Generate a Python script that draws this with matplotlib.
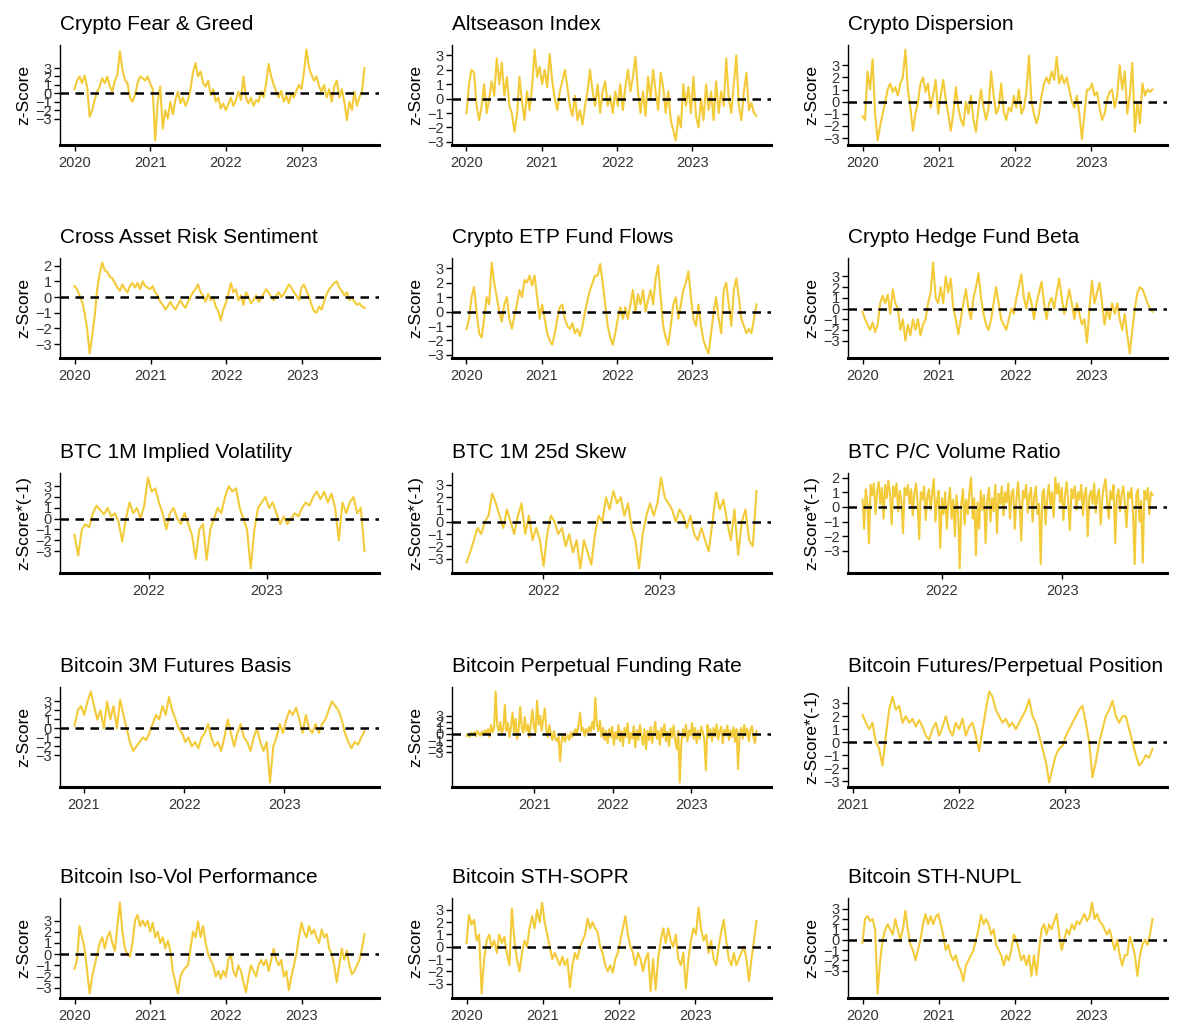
import numpy as np
import pandas as pd
import matplotlib
matplotlib.use("Agg")
import matplotlib.pyplot as plt
import matplotlib.dates as mdates

plt.rcParams["font.family"] = ["Liberation Sans", "DejaVu Sans"]

LINE_COLOR = "#F3CB3A"

# ---------------- data (z-scores) ----------------
fear_greed = [
    0.5, 1.5, 2.0, 1.2, 2.1, 0.8, -2.8, -2.0, -0.8, 0.2, 0.8, 1.8, 1.2, 2.0, 0.8,
    0.2, 1.5, 2.2, 5.0, 2.8, 1.6, 1.2, -0.5, -1.0, -0.2, 1.2, 2.0, 1.8, 1.5, 2.0,
    1.2, 0.5, -5.6, -1.0, 0.8, -4.2, -2.0, -3.0, -1.0, -2.5, -0.8, 0.2, -1.2, -0.5, -1.5,
    -0.8, 0.5, 2.5, 3.6, 2.0, 2.6, 1.2, 0.8, 1.5, -0.2, 0.5, -1.0, -0.5, -1.8, -1.2,
    -2.0, -1.3, -0.5, -1.5, -0.8, 0.2, -0.8, 2.0, -0.5, -1.2, -0.5, -1.5, -0.8, -1.0, 0.2,
    -0.5, 1.2, 3.5, 2.0, 1.0, 0.2, -0.5, 0.3, -1.0, -0.3, -1.2, 0.0, -0.5, 0.3, 1.0,
    0.5, 2.5, 5.2, 3.0, 2.2, 1.5, 2.0, 0.8, 0.2, 1.0, -0.5, 0.5, -1.0, 0.8, 1.5,
    -0.5, 0.5, -1.0, -3.2, -1.0, -2.0, 0.2, -1.5, -0.5, 0.3, 3.0,
]
altseason = [
    -1.0, 1.0, 2.0, 1.8, -0.5, -1.5, -0.5, 1.0, -1.0, 0.0, 1.2, 0.2, 2.8, 1.0, 2.5,
    0.2, 1.5, -0.5, -1.0, -2.3, -1.2, 1.5, -0.2, -1.5, 0.5, -0.8, 0.8, 3.4, 1.5, 2.2,
    1.0, 2.0, 0.8, 3.1, 1.2, 0.0, -0.8, 0.5, 1.2, 2.0, 0.8, -0.5, -1.2, 0.2, -1.5,
    -0.8, -1.8, -0.5, 0.5, 2.0, 0.5, -0.5, 1.0, -1.0, 0.5, 1.2, -0.5, 0.2, -1.0, 0.5,
    -0.5, 1.0, -0.8, 0.8, 2.0, 0.5, 1.5, 2.9, 0.5, -1.0, 0.5, -1.2, 1.5, 0.0, 2.0,
    0.5, -0.8, 1.8, 0.8, -1.0, 0.5, -1.5, -2.2, -2.9, -1.2, -2.0, 1.0, -0.5, 0.8, -1.0,
    1.5, -1.2, -2.0, 0.0, -1.5, 1.0, -0.8, 0.5, -1.5, 1.2, -1.0, 0.5, -0.5, 2.8, 0.0,
    -1.0, 1.0, 3.0, -0.5, -1.5, 0.5, 1.8, -0.8, -0.3, -1.0, -1.2,
]
dispersion = [
    -1.2, -1.5, 2.5, 1.0, 3.5, -1.0, -3.2, -2.0, -1.0, 0.0, 1.0, 1.5, 0.8, 1.2, 0.5,
    1.5, 2.0, 4.3, 1.0, -0.5, -2.4, -1.0, 0.0, 1.5, 2.0, 0.8, 1.5, -0.5, 0.5, 1.8,
    -1.0, 0.5, 1.8, 0.2, -1.0, -2.4, -1.0, 1.2, -0.5, -1.5, -2.0, 0.0, -1.0, 0.5, -1.5,
    -2.5, -0.5, 1.0, -0.5, -1.5, -0.5, 2.5, 0.5, -1.0, -0.5, 1.5, -0.8, -1.5, -0.5, -0.8,
    0.5, -0.5, 1.0, -1.0, -0.5, 0.8, 3.8, 0.0, -1.0, -1.8, -1.0, 0.5, 1.5, 2.0, 1.5,
    2.5, 1.8, 3.7, 1.5, 2.2, 1.5, 2.0, 1.0, 0.0, -0.5, 0.5, -1.0, -3.1, -1.0, 1.0,
    1.0, 1.5, 0.5, 0.8, -0.5, -1.5, -1.0, 0.2, 0.8, 1.0, -0.5, 0.5, 3.0, 1.0, 2.5,
    -1.0, 0.5, 3.2, -2.5, 0.0, -1.8, 1.5, 0.5, 1.0, 0.8, 1.0,
]
cross_asset = [
    0.7, 0.5, 0.1, -0.3, -1.0, -2.0, -3.6, -2.5, -1.2, 0.5, 1.5, 2.2, 1.7, 1.6, 1.3,
    1.2, 0.9, 0.6, 0.4, 0.8, 0.5, 0.3, 0.7, 0.9, 0.6, 0.9, 0.5, 1.0, 0.7, 0.6,
    0.5, 0.7, 0.3, 0.1, -0.3, -0.5, -0.8, -0.6, -0.3, -0.6, -0.8, -0.5, -0.2, -0.5, -0.7,
    -0.3, 0.0, 0.3, 0.5, 0.8, 0.3, 0.1, -0.3, 0.2, -0.2, 0.0, -0.6, -0.9, -1.5, -0.8,
    -0.4, 0.2, 0.9, 0.3, 0.5, -0.2, 0.1, -0.5, 0.3, 0.0, -0.4, -0.2, 0.1, -0.3, -0.1,
    0.2, 0.5, 0.3, 0.0, -0.2, 0.1, 0.3, 0.0, 0.2, 0.5, 0.8, 0.6, 0.3, 0.1, -0.2,
    0.6, 0.8, 0.4, 0.0, -0.5, -0.9, -1.0, -0.6, -0.8, -0.3, 0.2, 0.5, 0.7, 0.9, 1.0,
    0.6, 0.4, 0.1, 0.3, -0.2, 0.0, -0.3, -0.5, -0.4, -0.6, -0.7,
]
etp_flows = [
    -1.2, -0.5, 1.0, 1.7, 0.0, -1.5, -1.8, -0.5, 1.0, 0.5, 3.4, 2.0, 1.0, 0.0, -0.7,
    0.5, 1.0, -0.5, -1.2, -0.3, 0.5, 1.5, 1.0, 2.2, 2.0, 2.5, 1.8, 2.5, 1.0, -0.5,
    0.5, -0.5, -1.5, -2.0, -2.3, -1.5, -0.5, 0.3, 0.5, -0.5, -1.0, -1.2, -0.8, -1.5, -1.2,
    -1.7, -1.0, 0.0, 0.8, 1.5, 2.0, 2.5, 2.5, 3.3, 2.0, 0.5, -1.0, -1.8, -2.3, -1.5,
    -0.5, 0.3, -0.5, 0.3, -0.5, 0.5, 1.5, 0.0, 1.2, 0.5, 1.5, 0.0, 0.8, 1.5, 0.5,
    2.3, 3.2, 1.0, -1.0, -1.8, -2.3, -1.0, 0.5, 1.0, -0.5, 0.5, 1.5, 2.0, 2.8, 1.0,
    -0.5, -1.0, 0.5, -1.0, -2.0, -2.5, -2.9, -1.5, 0.0, 1.0, -0.5, -1.5, 1.5, 2.0, 0.5,
    -1.0, 1.5, 2.3, 1.0, -0.5, -1.0, -1.5, -1.2, -1.5, -0.5, 0.5,
]
hedge_fund_beta = [
    -0.3, -1.0, -1.5, -2.0, -1.3, -2.2, -1.5, 0.5, 1.2, 0.5, 1.3, -0.5, 1.8, 0.5, 0.0,
    -2.0, -1.0, -3.0, -1.5, -2.5, -1.0, -2.0, -1.0, -2.5, -1.5, -1.0, 0.5, 1.5, 4.3, 1.0,
    0.5, 2.0, 0.5, 3.0, 1.5, 2.8, 0.0, -1.0, -2.4, -1.0, 0.5, 1.8, 0.0, -1.0, 1.0,
    2.0, 3.3, 1.0, -0.5, -1.5, -2.0, -1.0, 0.5, 2.0, 0.5, -1.0, -1.5, -2.0, -1.0, 0.0,
    -0.5, 1.0, 2.0, 3.2, 1.0, 0.0, 1.5, 0.5, -1.0, 0.5, 1.5, 2.5, 0.5, -1.0, 0.5,
    1.0, 0.0, 1.5, 2.8, 1.0, -0.5, 0.5, 1.8, 0.5, -1.0, 0.5, -0.5, -1.5, -1.0, -3.2,
    0.0, 2.6, 0.5, 1.5, 2.4, 0.5, -1.5, 0.0, -1.0, 0.5, -0.5, 0.5, -1.0, -2.0, -0.5,
    -2.5, -4.2, -2.0, 0.0, 1.5, 2.0, 1.8, 1.2, 0.5, 0.0, -0.3,
]
btc_implied_vol = [
    -1.5, -3.4, -1.0, -0.5, -0.8, 0.5, 1.2, 0.8, 0.4, 1.0, 0.2, 0.5, -0.3, -2.1, 0.0,
    1.5, 0.5, 1.0, 0.0, 1.2, 3.8, 2.5, 2.8, 1.5, 0.5, -1.0, 0.5, 1.0, 0.0, -0.5,
    0.5, -0.5, -1.5, -3.7, -1.0, -0.5, -3.8, -1.0, 0.0, 1.0, 0.5, 2.0, 3.0, 2.5, 2.8,
    1.0, 0.0, -1.0, -4.6, -1.0, 1.0, 1.5, 2.0, 1.0, 1.5, 0.5, -0.5, 0.2, -0.5, 0.0,
    0.5, 0.2, 1.0, 1.5, 1.2, 2.0, 2.5, 1.8, 2.5, 1.5, 2.3, 1.0, -2.0, 1.5, 0.5,
    1.5, 2.0, 0.5, 1.0, -3.0,
]
btc_skew = [
    -3.3, -2.5, -1.5, -0.5, -1.0, 0.0, 0.5, 2.3, 1.5, 0.5, -0.5, 1.0, 0.0, -1.0, 0.5,
    1.5, -1.0, 0.5, -1.5, -0.5, -1.5, -3.6, -1.0, 0.5, 0.0, -1.0, -0.5, -2.0, -1.0, -2.5,
    -1.5, -3.8, -1.5, -2.5, -3.5, -1.0, 0.5, 0.0, 2.0, 1.0, 2.5, 1.5, 2.0, 0.5, 1.5,
    -0.5, -1.5, -3.8, -1.0, 0.5, 1.5, 0.5, 1.5, 3.6, 2.0, 1.5, 1.0, 0.0, 1.0, 0.5,
    -0.5, 0.5, -1.0, -1.5, -0.5, -1.5, -2.4, 0.0, 2.4, 1.0, 1.8, 0.0, -1.5, 1.0, -2.7,
    0.0, 1.0, -1.5, -2.0, 2.5,
]
btc_pc_volume = [
    0.5, -1.5, 1.2, 0.3, -2.5, 1.5, 0.8, 1.6, -0.5, 1.0, 1.7, 0.2, 1.3, -0.8, 1.5,
    0.6, 1.8, 0.9, -1.2, 1.4, 0.7, 1.6, -0.3, 1.1, 0.4, -1.8, 1.3, 0.8, 1.5, 0.2,
    1.2, -0.6, 0.9, 1.6, 0.3, -2.2, 1.0, 0.5, 1.4, -0.9, 0.7, 1.2, -0.2, 0.9, 1.9,
    -1.0, 0.4, 1.1, -2.8, 0.6, -0.5, 1.0, -1.5, 0.3, 1.3, -0.8, 0.5, -2.0, 0.8, -0.3,
    -4.2, 0.2, 1.2, -1.2, 0.5, -0.5, 1.0, 2.0, -0.8, 0.6, -3.3, 0.3, -1.5, 1.1, -0.2,
    0.8, -2.5, 0.4, 1.3, -1.0, 0.6, -0.3, 1.5, -1.8, 0.9, 0.2, 1.4, -0.6, 1.0, 0.3,
    1.6, -0.8, 0.9, 1.2, -1.5, 0.5, 1.7, 0.2, -2.3, 1.1, 0.6, 1.5, -0.4, 0.8, 1.3,
    -1.0, 0.7, 1.4, -0.5, 0.2, -3.9, 0.9, 1.2, -1.2, 0.6, 1.5, 0.1, 1.0, -0.7, 2.0,
    0.9, 1.6, 0.3, 1.3, -0.9, 0.8, 1.7, 0.4, -1.6, 1.2, 0.6, 1.4, -0.2, 1.0, 0.5,
    1.5, -0.6, 0.9, 1.3, -2.0, 0.7, 1.1, 0.2, 1.6, -0.4, 0.8, 1.2, -1.2, 0.6, 1.4,
    1.9, 0.3, -0.8, 1.1, 0.5, 1.5, -2.5, 0.7, 1.2, -0.3, 0.9, 1.4, 0.1, -1.4, 1.0,
    0.6, 1.3, -0.5, -3.9, 0.8, 1.2, -1.0, 0.4, -3.8, 1.1, 0.5, 1.3, -0.5, 1.0, 0.8,
]
futures_basis = [
    0.3, 2.0, 2.5, 1.5, 3.0, 4.1, 2.5, 1.0, 2.0, 0.0, 3.0, 1.0, 2.5, 0.0, 3.2,
    1.5, 0.0, -1.5, -2.5, -2.0, -1.5, -1.0, -1.3, -0.5, 0.5, 1.5, 1.0, 2.5, 1.5, 3.5,
    2.0, 1.0, 0.0, -0.5, -1.5, -1.0, -2.0, -1.5, -2.2, -1.0, -0.5, 0.5, -1.0, -2.0, -1.5,
    -2.5, -1.0, 1.0, -0.5, -2.0, -0.5, 0.5, -1.0, -1.5, -2.5, -1.0, 0.0, -1.5, -2.5, -1.5,
    -6.0, -2.0, -1.0, 0.5, -0.5, 1.0, 2.0, 1.5, 2.3, 1.0, -0.5, 1.5, 0.0, -0.5, 0.5,
    -0.5, 0.5, 1.0, 2.0, 3.0, 2.5, 2.0, 1.0, -0.5, -1.5, -2.2, -1.5, -1.8, -1.0, -0.3,
]
funding_rate = [
    -0.3, 0.0, -0.5, 0.2, -0.2, 0.3, -0.4, 0.5, 0.1, -0.3,
    0.4, -0.2, 0.6, 0.0, 0.8, -0.5, 1.5, 0.3, 1.0, 7.0,
    1.5, 0.5, 2.0, 0.0, 1.0, 4.8, 0.5, 1.8, -0.5, 1.2,
    3.5, 0.3, 2.5, -0.8, 0.8, 4.5, 1.0, 0.2, 2.8, 0.5,
    1.5, -0.5, 2.0, 4.0, 1.0, 0.3, 5.5, 1.5, 3.0, 0.5,
    2.5, 4.2, 0.8, -0.5, 1.5, 0.0, -1.0, 0.5, -0.8, -1.2,
    -0.5, -4.5, -1.0, 0.0, -1.3, -0.6, -0.2, -1.0, 0.3, -0.5,
    0.2, 0.8, 0.0, 1.5, 3.5, 0.5, 1.0, -0.3, 0.8, 0.2,
    1.2, 0.4, 2.0, 0.8, 6.0, 1.5, 0.5, 2.2, -0.5, 1.0,
    -1.0, 0.5, -1.5, 0.8, -0.5, 1.2, -1.8, 0.3, -0.8, 1.5,
    -1.2, 0.5, -2.0, 1.0, -0.5, 1.8, -1.5, 0.2, -0.8, 1.3,
    -2.2, 0.6, -1.0, 1.5, -0.3, -1.8, 0.8, -2.5, 0.5, -1.0,
    1.2, -1.5, 0.3, 2.0, -0.8, 0.5, -1.8, 1.0, -0.5, 1.6,
    -1.2, 0.4, -2.0, 0.9, -0.6, 1.4, -1.0, -2.5, 0.5, -8.0,
    -1.5, 0.8, -0.5, 1.5, -1.2, 0.6, -0.3, 1.8, -0.8, 1.0,
    -1.5, 0.5, -0.8, 1.2, 0.3, -1.0, -6.0, 1.5, -0.5, 0.8,
    -1.2, 1.0, -0.4, 1.6, -0.9, 0.4, 1.2, -1.5, 0.7, -0.3,
    1.4, -1.0, 0.6, -0.5, 1.1, -1.3, 0.8, -5.8, 0.2, 1.0,
    -0.8, 1.5, -0.3, 0.9, -1.2, 0.6, 1.3, -0.6, -1.5, 0.5,
]
futures_perp_position = [
    2.1, 1.5, 1.0, 1.5, 0.0, -0.5, -1.8, 0.5, 2.5, 3.5, 2.5, 2.8, 1.5, 2.0, 1.5,
    1.8, 1.2, 1.7, 1.2, 0.5, 0.2, 1.0, 1.5, 0.5, 1.2, 2.0, 1.0, 0.5, 1.5, 1.0,
    1.8, 0.5, 1.2, 1.5, 0.5, -0.7, 1.0, 2.5, 3.9, 3.5, 2.5, 2.0, 1.5, 1.8, 1.2,
    1.5, 1.0, 1.5, 2.0, 2.5, 3.3, 2.0, 1.5, 0.5, -0.5, -1.5, -3.1, -2.0, -1.0, -0.5,
    -0.3, 0.5, 1.0, 1.5, 2.0, 2.5, 2.8, 1.5, 0.0, -2.7, -1.5, 0.0, 1.0, 2.0, 2.5,
    3.2, 2.0, 1.5, 2.0, 2.0, 1.0, 0.0, -1.0, -1.8, -1.5, -1.0, -1.2, -0.5,
]
iso_vol = [
    -1.3, -0.5, 2.5, 1.5, 0.5, -1.5, -3.5, -2.0, -1.0, 0.0, 1.0, 1.5, 0.5, 1.5, 2.0,
    1.0, 0.3, 2.5, 4.6, 2.0, 0.5, 0.0, -0.2, 1.0, 3.0, 3.5, 2.5, 3.0, 2.5, 3.0,
    2.0, 2.8, 1.5, 2.0, 1.0, 1.5, 0.5, 1.2, 0.3, -1.5, -2.5, -3.5, -2.0, -1.5, -1.2,
    -1.0, 0.5, 2.0, 1.5, 2.9, 1.5, 2.5, 1.0, 0.0, -0.5, -1.0, -2.0, -1.5, -2.2, -1.5,
    -2.0, -0.5, 0.0, -1.5, -2.0, -1.0, -1.5, -2.5, -3.4, -2.0, -1.0, -1.5, -2.0, -1.0, -0.5,
    -1.0, -0.5, -1.5, -0.5, 0.5, -0.5, -1.0, -0.5, -2.0, -1.5, -3.2, -2.0, -1.0, 0.0, 1.5,
    2.8, 2.0, 1.5, 2.5, 1.8, 2.2, 1.5, 1.0, 2.2, 1.5, 1.8, 0.5, 0.0, -1.0, -2.5,
    -1.0, 0.5, -0.5, 0.3, -1.0, -1.8, -1.5, -1.0, -0.5, 0.5, 1.8,
]
sth_sopr = [
    0.3, 2.6, 1.8, 2.2, 0.5, 1.0, -3.8, -1.0, 0.5, 1.0, 0.0, 0.5, -0.5, 1.0, 0.3,
    0.8, -0.5, -1.5, 3.1, 0.5, -1.0, -2.0, -0.5, 0.5, 0.0, 1.5, 2.5, 1.5, 3.0, 2.0,
    3.6, 2.0, 1.0, 0.0, -1.0, -0.5, -1.0, -1.5, -0.8, -1.5, -1.0, -3.3, -1.5, -0.5, -1.0,
    0.0, 0.5, 1.0, 2.3, 1.5, 2.0, 1.5, 1.2, 0.0, -0.5, -1.5, -2.0, -1.5, -2.1, -1.0,
    -0.5, 0.5, 1.5, 2.5, 1.0, 0.0, -0.5, -1.5, -0.5, -1.0, -2.0, -1.0, -0.5, -3.6, -1.0,
    -3.5, -1.0, 0.5, 1.5, 0.3, 1.5, 0.5, 0.0, 1.0, -1.0, -1.5, -0.5, -3.4, -1.0, 0.5,
    1.5, 1.0, 3.2, 1.5, 0.5, 1.0, -0.5, 0.5, -1.0, -1.5, 0.0, 1.2, 2.2, 0.5, -1.0,
    -1.5, -0.5, -1.5, -1.0, -0.5, 0.0, -1.0, -2.8, -1.0, 0.5, 2.1,
]
sth_nupl = [
    -0.3, 2.0, 2.3, 1.8, 2.0, 1.0, -5.2, -2.0, 0.0, 1.0, 1.5, 1.0, 0.5, 2.0, 1.0,
    0.0, 1.0, 2.8, 1.0, -0.5, -1.0, -2.0, -1.0, 0.0, 1.5, 2.5, 1.5, 2.3, 1.5, 2.2,
    2.5, 1.5, 0.5, -1.0, -0.5, -1.5, -2.0, -1.5, -2.5, -3.0, -4.0, -2.5, -2.0, -1.5, -1.0,
    0.0, 1.0, 2.4, 1.5, 2.0, 1.5, 0.5, 1.0, -0.5, -1.0, -1.5, -2.5, -1.5, -2.0, -1.0,
    0.5, 0.0, -1.0, -2.0, -1.5, -2.5, -1.5, -3.5, -1.5, -3.4, -1.0, 1.0, 1.5, 0.5, 1.5,
    1.0, 1.8, 2.5, 0.5, -1.0, 0.0, 1.0, 0.5, 1.5, 1.0, 1.8, 1.5, 2.0, 2.5, 1.8,
    2.2, 3.6, 2.0, 2.5, 1.8, 1.5, 1.0, 0.5, 1.0, 0.0, -1.0, 0.0, -1.5, -2.5, -1.5,
    -1.5, 0.3, -0.5, -1.5, -3.5, -1.5, -0.5, 0.0, -0.5, 0.5, 2.0,
]

titles = [
    "Crypto Fear & Greed", "Altseason Index", "Crypto Dispersion",
    "Cross Asset Risk Sentiment", "Crypto ETP Fund Flows", "Crypto Hedge Fund Beta",
    "BTC 1M Implied Volatility", "BTC 1M 25d Skew", "BTC P/C Volume Ratio",
    "Bitcoin 3M Futures Basis", "Bitcoin Perpetual Funding Rate", "Bitcoin Futures/Perpetual Position",
    "Bitcoin Iso-Vol Performance", "Bitcoin STH-SOPR", "Bitcoin STH-NUPL",
]
ylabels = [
    "z-Score", "z-Score", "z-Score",
    "z-Score", "z-Score", "z-Score",
    "z-Score*(-1)", "z-Score*(-1)", "z-Score*(-1)",
    "z-Score", "z-Score", "z-Score*(-1)",
    "z-Score", "z-Score", "z-Score",
]
series = [
    fear_greed, altseason, dispersion,
    cross_asset, etp_flows, hedge_fund_beta,
    btc_implied_vol, btc_skew, btc_pc_volume,
    futures_basis, funding_rate, futures_perp_position,
    iso_vol, sth_sopr, sth_nupl,
]
start_dates = [
    "2020-01-01", "2020-01-01", "2020-01-01",
    "2020-01-01", "2020-01-01", "2020-01-01",
    "2021-05-15", "2021-05-05", "2021-05-05",
    "2020-11-28", "2020-02-20", "2021-02-03",
    "2020-01-01", "2020-01-01", "2020-01-01",
]
end_dates = [
    "2023-10-31", "2023-11-08", "2023-10-20",
    "2023-10-28", "2023-11-08", "2023-10-20",
    "2023-10-31", "2023-11-01", "2023-10-01",
    "2023-10-20", "2023-10-31", "2023-10-31",
    "2023-10-31", "2023-10-20", "2023-10-20",
]
# year labels shown under each panel
tick_years = [
    [2020, 2021, 2022, 2023], [2020, 2021, 2022, 2023], [2020, 2021, 2022, 2023],
    [2020, 2021, 2022, 2023], [2020, 2021, 2022, 2023], [2020, 2021, 2022, 2023],
    [2022, 2023], [2022, 2023], [2022, 2023],
    [2021, 2022, 2023], [2021, 2022, 2023], [2021, 2022, 2023],
    [2020, 2021, 2022, 2023], [2020, 2021, 2022, 2023], [2020, 2021, 2022, 2023],
]

# ---------------- layout (pixels of a 1200x1028 canvas) ----------------
W, H = 1200, 1028
col_left = [60, 452, 848]
col_width = 319
row_top = [45, 258, 473, 687, 898]
row_height = 100

fig = plt.figure(figsize=(W / 100, H / 100), dpi=100)

for k, (title, ylab, vals, d0, d1, yrs) in enumerate(
        zip(titles, ylabels, series, start_dates, end_dates, tick_years)):
    r, c = divmod(k, 3)
    ax = fig.add_axes([col_left[c] / W, 1 - (row_top[r] + row_height) / H,
                       col_width / W, row_height / H])
    dates = pd.date_range(d0, d1, periods=len(vals))
    ax.plot(dates, vals, color=LINE_COLOR, lw=1.5, solid_joinstyle="round")
    ax.axhline(0, color="black", lw=1.8, linestyle=(0, (3.4, 2.6)))

    lo, hi = ax.get_ylim()
    ax.set_yticks([t for t in range(-3, 4) if lo <= t <= hi])

    ax.set_xticks([pd.Timestamp(f"{y}-01-01") for y in yrs])
    ax.xaxis.set_major_formatter(mdates.DateFormatter("%Y"))

    for side in ("top", "right"):
        ax.spines[side].set_visible(False)
    ax.spines["left"].set_linewidth(1.0)
    ax.spines["bottom"].set_linewidth(2.2)
    ax.tick_params(axis="both", labelsize=10.5, length=4, width=1.0,
                   colors="black", labelcolor="#333333", pad=2)
    ax.tick_params(axis="x", pad=4)

    ax.set_title(title, loc="left", fontsize=15, pad=11)
    ax.set_ylabel(ylab, fontsize=12.5, labelpad=3)

fig.savefig("out.png", dpi=100)
